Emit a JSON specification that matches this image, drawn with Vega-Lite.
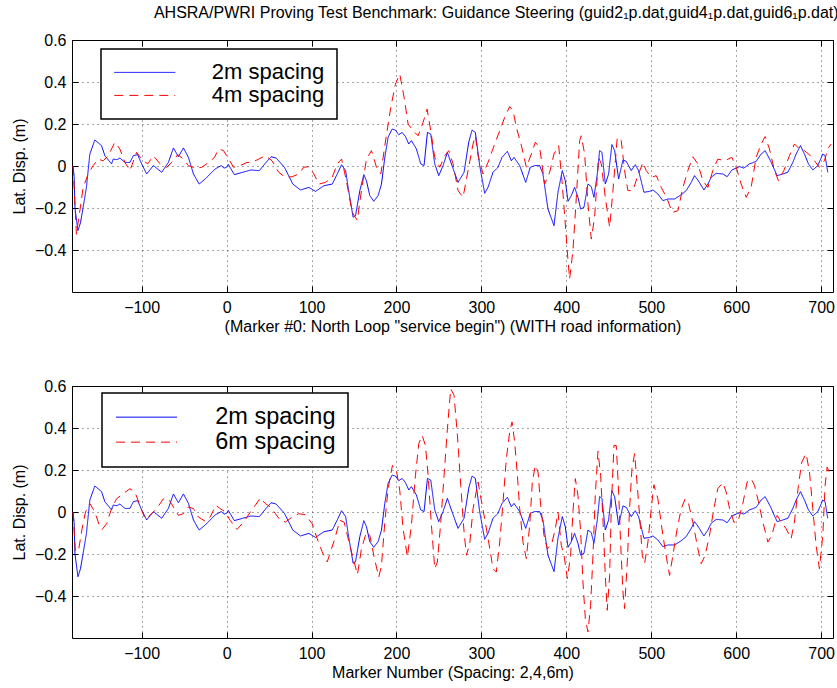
{
  "$schema": "https://vega.github.io/schema/vega-lite/v6.json",
  "background": "white",
  "padding": {"left": 10, "top": 4, "right": 0, "bottom": 0},
  "title": {"text": "AHSRA/PWRI Proving Test Benchmark: Guidance Steering (guid2₁p.dat,guid4₁p.dat,guid6₁p.dat)", "font": "Liberation Sans", "fontSize": 16, "fontWeight": "normal", "color": "#000", "anchor": "start", "dx": 143, "offset": 11},
  "config": {
    "font": "Liberation Sans",
    "view": {"stroke": "#000", "strokeWidth": 1},
    "axis": {"labelFont": "Liberation Sans", "labelFontSize": 16, "labelColor": "#000", "titleFont": "Liberation Sans", "titleFontSize": 16, "titleFontWeight": "normal", "titleColor": "#000", "domain": false, "tickColor": "#000", "tickSize": -6, "gridColor": "#000", "gridDash": [1, 4], "gridOpacity": 0.7, "gridWidth": 1},
    "legend": {"padding": 12.4, "symbolOffset": 20.4, "symbolType": "M-6.1,0H6.1", "symbolSize": 100, "symbolStrokeWidth": 1, "labelFont": "Liberation Sans", "labelFontSize": 22, "labelColor": "#000", "labelOffset": 56, "rowPadding": 1, "fillColor": "#fff", "strokeColor": "#000", "strokeWidth": 1.5}
  },
  "datasets": {
    "b2": [
      {"x": -180.7, "y": 0}, {"x": -179.5, "y": -0.05}, {"x": -178.5, "y": -0.2}, {"x": -175, "y": -0.308}, {"x": -172, "y": -0.27}, {"x": -168.9, "y": -0.197}, {"x": -165, "y": -0.102}, {"x": -161, "y": 0.057}, {"x": -155.1, "y": 0.124}, {"x": -151, "y": 0.11}, {"x": -147.2, "y": 0.097}, {"x": -143.3, "y": 0.049}, {"x": -135.4, "y": 0.01}, {"x": -133.5, "y": 0.033}, {"x": -129, "y": 0.03}, {"x": -125.6, "y": 0.038}, {"x": -119.7, "y": 0.017}, {"x": -113.8, "y": 0.017}, {"x": -109.8, "y": 0.049}, {"x": -104.7, "y": 0.054}, {"x": -100, "y": 0.01}, {"x": -94.1, "y": -0.038}, {"x": -86.2, "y": 0.002}, {"x": -76.4, "y": -0.03}, {"x": -68.5, "y": 0.017}, {"x": -62.6, "y": 0.086}, {"x": -56.7, "y": 0.044}, {"x": -50.8, "y": 0.086}, {"x": -44.9, "y": 0.041}, {"x": -39, "y": -0.038}, {"x": -32.3, "y": -0.086}, {"x": -25.2, "y": -0.062}, {"x": -13.4, "y": -0.014}, {"x": -6.3, "y": 0.002}, {"x": -3, "y": -0.01}, {"x": 0, "y": -0.006}, {"x": 2, "y": 0.008}, {"x": 9.1, "y": -0.041}, {"x": 18.9, "y": -0.03}, {"x": 28.7, "y": -0.019}, {"x": 38.6, "y": -0.022}, {"x": 46.5, "y": 0.017}, {"x": 52.4, "y": 0.044}, {"x": 58.3, "y": 0.038}, {"x": 68.1, "y": -0.006}, {"x": 78, "y": -0.086}, {"x": 87, "y": -0.114}, {"x": 96.9, "y": -0.102}, {"x": 104.7, "y": -0.121}, {"x": 114.6, "y": -0.094}, {"x": 124.4, "y": -0.086}, {"x": 130.3, "y": -0.038}, {"x": 135.4, "y": 0.006}, {"x": 140.2, "y": -0.022}, {"x": 143.1, "y": -0.102}, {"x": 149, "y": -0.244}, {"x": 151.8, "y": -0.237}, {"x": 156.9, "y": -0.117}, {"x": 161.6, "y": -0.041}, {"x": 164.7, "y": -0.07}, {"x": 168.6, "y": -0.141}, {"x": 173.3, "y": -0.168}, {"x": 178.4, "y": -0.141}, {"x": 182.4, "y": -0.086}, {"x": 186.3, "y": 0.041}, {"x": 190.2, "y": 0.137}, {"x": 194.9, "y": 0.176}, {"x": 198.8, "y": 0.171}, {"x": 202.7, "y": 0.149}, {"x": 206.7, "y": 0.16}, {"x": 210.6, "y": 0.14}, {"x": 214.5, "y": 0.105}, {"x": 217.6, "y": 0.121}, {"x": 223.5, "y": 0.081}, {"x": 228.6, "y": 0.01}, {"x": 232.5, "y": 0.002}, {"x": 236.5, "y": 0.16}, {"x": 240.4, "y": 0.152}, {"x": 245.1, "y": 0.01}, {"x": 249.8, "y": -0.046}, {"x": 254.9, "y": 0.002}, {"x": 260, "y": 0.065}, {"x": 264.7, "y": 0.01}, {"x": 272.5, "y": -0.078}, {"x": 279.6, "y": -0.03}, {"x": 285.1, "y": 0.113}, {"x": 289, "y": 0.171}, {"x": 292.9, "y": 0.16}, {"x": 298, "y": 0.002}, {"x": 303.9, "y": -0.13}, {"x": 307.8, "y": -0.102}, {"x": 313.7, "y": -0.03}, {"x": 319.6, "y": -0.006}, {"x": 324.3, "y": 0.041}, {"x": 330.6, "y": 0.07}, {"x": 335.3, "y": 0.025}, {"x": 338.4, "y": 0.041}, {"x": 345.1, "y": 0.002}, {"x": 352.2, "y": -0.078}, {"x": 357.6, "y": -0.006}, {"x": 362.7, "y": 0.002}, {"x": 368.6, "y": 0.002}, {"x": 372.5, "y": -0.038}, {"x": 378.4, "y": -0.205}, {"x": 385.5, "y": -0.284}, {"x": 390.2, "y": -0.125}, {"x": 395.3, "y": -0.022}, {"x": 398.8, "y": -0.07}, {"x": 402, "y": -0.168}, {"x": 405.9, "y": -0.141}, {"x": 409.8, "y": -0.102}, {"x": 413.7, "y": -0.149}, {"x": 416.9, "y": -0.205}, {"x": 420.8, "y": -0.197}, {"x": 425.5, "y": -0.086}, {"x": 429.4, "y": -0.098}, {"x": 432.5, "y": -0.149}, {"x": 436.5, "y": -0.038}, {"x": 439.2, "y": 0.073}, {"x": 442, "y": 0.065}, {"x": 445.9, "y": -0.086}, {"x": 449.8, "y": -0.038}, {"x": 453.7, "y": 0.102}, {"x": 456.9, "y": 0.073}, {"x": 461.6, "y": -0.062}, {"x": 466.7, "y": 0.029}, {"x": 470.6, "y": 0.022}, {"x": 476.5, "y": -0.022}, {"x": 481.2, "y": 0.006}, {"x": 485.1, "y": -0.022}, {"x": 491.4, "y": -0.125}, {"x": 498, "y": -0.121}, {"x": 502, "y": -0.114}, {"x": 507.8, "y": -0.133}, {"x": 513.7, "y": -0.165}, {"x": 519.6, "y": -0.157}, {"x": 527.5, "y": -0.157}, {"x": 535.3, "y": -0.137}, {"x": 541.2, "y": -0.117}, {"x": 547.1, "y": -0.078}, {"x": 551, "y": -0.046}, {"x": 554.9, "y": -0.067}, {"x": 562, "y": -0.114}, {"x": 566.7, "y": -0.086}, {"x": 570.6, "y": -0.054}, {"x": 576.5, "y": -0.035}, {"x": 584.3, "y": -0.038}, {"x": 589.4, "y": -0.051}, {"x": 594.9, "y": -0.019}, {"x": 603.9, "y": -0.003}, {"x": 609, "y": -0.01}, {"x": 615.7, "y": 0.01}, {"x": 623.5, "y": 0.022}, {"x": 629.4, "y": 0.057}, {"x": 634.1, "y": 0.073}, {"x": 640.4, "y": 0.025}, {"x": 648.2, "y": -0.046}, {"x": 654.9, "y": -0.038}, {"x": 660.8, "y": -0.03}, {"x": 666.7, "y": 0.017}, {"x": 670.6, "y": 0.057}, {"x": 675.7, "y": 0.097}, {"x": 680.4, "y": 0.057}, {"x": 685.1, "y": 0.01}, {"x": 690.2, "y": -0.019}, {"x": 696.1, "y": 0.002}, {"x": 702, "y": 0.057}, {"x": 704.7, "y": 0.049}, {"x": 707.8, "y": -0.03}
    ],
    "r4": [
      {"x": -180.7, "y": 0}, {"x": -176.8, "y": -0.325}, {"x": -172.8, "y": -0.214}, {"x": -168.9, "y": -0.103}, {"x": -163, "y": -0.038}, {"x": -157.1, "y": 0.002}, {"x": -151.2, "y": 0.033}, {"x": -145.3, "y": 0.025}, {"x": -139.4, "y": 0.049}, {"x": -131.5, "y": 0.113}, {"x": -125.6, "y": 0.081}, {"x": -119.7, "y": 0.017}, {"x": -113.8, "y": -0.022}, {"x": -105.9, "y": 0.065}, {"x": -100, "y": 0.033}, {"x": -92.9, "y": 0.01}, {"x": -86.2, "y": 0.049}, {"x": -78.3, "y": 0.01}, {"x": -70.5, "y": -0.006}, {"x": -64.6, "y": 0.017}, {"x": -57.5, "y": 0.054}, {"x": -50.8, "y": 0.033}, {"x": -44.9, "y": 0.002}, {"x": -37, "y": -0.01}, {"x": -29.1, "y": -0.006}, {"x": -21.3, "y": 0.017}, {"x": -14.2, "y": 0.041}, {"x": -9.4, "y": 0.081}, {"x": -3.5, "y": 0.073}, {"x": 2.4, "y": 0.033}, {"x": 8.3, "y": -0.006}, {"x": 16.1, "y": 0.002}, {"x": 24, "y": 0.017}, {"x": 29.9, "y": 0.017}, {"x": 37.8, "y": 0.033}, {"x": 45.7, "y": 0.049}, {"x": 53.5, "y": 0.025}, {"x": 61.4, "y": -0.03}, {"x": 69.3, "y": -0.054}, {"x": 77.2, "y": -0.051}, {"x": 85, "y": -0.038}, {"x": 90.9, "y": -0.006}, {"x": 96.9, "y": -0.003}, {"x": 102.8, "y": -0.038}, {"x": 108.7, "y": -0.086}, {"x": 116.5, "y": -0.078}, {"x": 124.4, "y": -0.054}, {"x": 130.3, "y": 0.01}, {"x": 135.4, "y": 0.033}, {"x": 140.2, "y": -0.054}, {"x": 148, "y": -0.221}, {"x": 153.9, "y": -0.259}, {"x": 158.8, "y": -0.117}, {"x": 164.7, "y": 0.033}, {"x": 170.6, "y": 0.073}, {"x": 176.5, "y": -0.006}, {"x": 181.6, "y": -0.038}, {"x": 186.3, "y": 0.097}, {"x": 193.3, "y": 0.279}, {"x": 198.8, "y": 0.39}, {"x": 203.9, "y": 0.438}, {"x": 209, "y": 0.327}, {"x": 213.7, "y": 0.2}, {"x": 219.6, "y": 0.168}, {"x": 225.5, "y": 0.144}, {"x": 231.4, "y": 0.208}, {"x": 236.1, "y": 0.271}, {"x": 240.4, "y": 0.168}, {"x": 245.1, "y": 0.041}, {"x": 251, "y": -0.006}, {"x": 256.9, "y": 0.049}, {"x": 261.6, "y": 0.073}, {"x": 266.7, "y": 0.01}, {"x": 272.5, "y": -0.117}, {"x": 278.4, "y": -0.149}, {"x": 284.3, "y": -0.022}, {"x": 290.2, "y": 0.105}, {"x": 292.9, "y": 0.144}, {"x": 296.1, "y": 0.049}, {"x": 302, "y": -0.038}, {"x": 307.8, "y": 0.017}, {"x": 315.7, "y": 0.105}, {"x": 321.6, "y": 0.168}, {"x": 327.5, "y": 0.232}, {"x": 333.3, "y": 0.283}, {"x": 337.3, "y": 0.263}, {"x": 341.2, "y": 0.184}, {"x": 347.1, "y": 0.097}, {"x": 353, "y": -0.006}, {"x": 358.8, "y": 0.057}, {"x": 363.5, "y": 0.113}, {"x": 368.6, "y": 0.089}, {"x": 374.5, "y": -0.086}, {"x": 380.4, "y": -0.03}, {"x": 385.5, "y": 0.057}, {"x": 391, "y": 0.097}, {"x": 394.9, "y": -0.07}, {"x": 398.8, "y": -0.276}, {"x": 402, "y": -0.451}, {"x": 403.9, "y": -0.538}, {"x": 407.8, "y": -0.403}, {"x": 411.8, "y": -0.149}, {"x": 415.7, "y": 0.121}, {"x": 417.6, "y": 0.144}, {"x": 421.6, "y": 0.057}, {"x": 425.5, "y": -0.181}, {"x": 429.4, "y": -0.348}, {"x": 433.3, "y": -0.244}, {"x": 438, "y": 0.041}, {"x": 441.2, "y": 0.01}, {"x": 445.9, "y": -0.149}, {"x": 451, "y": -0.292}, {"x": 454.9, "y": -0.117}, {"x": 460, "y": 0.137}, {"x": 464.7, "y": 0.121}, {"x": 468.6, "y": -0.022}, {"x": 472.5, "y": -0.117}, {"x": 478.4, "y": -0.117}, {"x": 483.5, "y": -0.054}, {"x": 490.2, "y": 0.017}, {"x": 494.1, "y": -0.022}, {"x": 500, "y": -0.054}, {"x": 505.9, "y": -0.046}, {"x": 511.8, "y": -0.102}, {"x": 518.8, "y": -0.157}, {"x": 524.7, "y": -0.221}, {"x": 531.4, "y": -0.213}, {"x": 537.3, "y": -0.102}, {"x": 543.1, "y": -0.022}, {"x": 549, "y": 0.044}, {"x": 554.9, "y": 0.01}, {"x": 560.8, "y": -0.07}, {"x": 566.7, "y": -0.102}, {"x": 572.5, "y": -0.022}, {"x": 578.4, "y": 0.033}, {"x": 586.3, "y": 0.025}, {"x": 594.9, "y": 0.041}, {"x": 600, "y": -0.006}, {"x": 605.9, "y": -0.086}, {"x": 611.8, "y": -0.149}, {"x": 617.6, "y": -0.102}, {"x": 623.5, "y": 0.041}, {"x": 629.4, "y": 0.105}, {"x": 634.1, "y": 0.14}, {"x": 639.2, "y": 0.081}, {"x": 645.1, "y": -0.022}, {"x": 649.8, "y": -0.07}, {"x": 656.1, "y": -0.022}, {"x": 662.7, "y": 0.049}, {"x": 668.6, "y": 0.105}, {"x": 674.5, "y": 0.081}, {"x": 680.4, "y": 0.073}, {"x": 687.5, "y": 0.049}, {"x": 692.2, "y": 0.025}, {"x": 698, "y": -0.006}, {"x": 703.9, "y": 0.025}, {"x": 707.8, "y": 0.081}, {"x": 711.8, "y": 0.105}
    ],
    "r6": [
      {"x": -180.7, "y": 0}, {"x": -178, "y": -0.19}, {"x": -174, "y": -0.175}, {"x": -170.1, "y": -0.079}, {"x": -166.1, "y": 0}, {"x": -161, "y": 0.04}, {"x": -155.1, "y": 0}, {"x": -149.2, "y": -0.071}, {"x": -146.5, "y": -0.083}, {"x": -141.3, "y": -0.056}, {"x": -135.4, "y": 0.016}, {"x": -129.5, "y": 0.063}, {"x": -121.7, "y": 0.087}, {"x": -113.8, "y": 0.111}, {"x": -107.9, "y": 0.095}, {"x": -102, "y": 0.032}, {"x": -96.1, "y": -0.032}, {"x": -90.2, "y": -0.016}, {"x": -82.3, "y": 0.016}, {"x": -74.4, "y": 0.063}, {"x": -68.5, "y": 0.063}, {"x": -62.6, "y": 0.024}, {"x": -56.7, "y": -0.016}, {"x": -50.8, "y": -0.008}, {"x": -44.9, "y": 0.024}, {"x": -39, "y": 0.016}, {"x": -33.1, "y": -0.024}, {"x": -25.2, "y": -0.044}, {"x": -19.3, "y": -0.024}, {"x": -12.6, "y": 0.032}, {"x": -7.5, "y": 0.016}, {"x": -1.6, "y": 0}, {"x": 4.3, "y": -0.04}, {"x": 12.2, "y": -0.083}, {"x": 20.1, "y": -0.048}, {"x": 28, "y": 0}, {"x": 33.9, "y": 0.032}, {"x": 39.8, "y": 0.067}, {"x": 45.7, "y": 0.04}, {"x": 51.6, "y": 0.024}, {"x": 57.5, "y": -0.008}, {"x": 63.4, "y": -0.04}, {"x": 69.3, "y": -0.048}, {"x": 77.2, "y": -0.024}, {"x": 85, "y": -0.008}, {"x": 92.9, "y": -0.013}, {"x": 100.8, "y": -0.056}, {"x": 106.7, "y": -0.127}, {"x": 112.6, "y": -0.19}, {"x": 118.5, "y": -0.238}, {"x": 123.5, "y": -0.175}, {"x": 127.5, "y": -0.127}, {"x": 133.3, "y": -0.04}, {"x": 138.4, "y": -0.048}, {"x": 145.1, "y": -0.159}, {"x": 150.2, "y": -0.238}, {"x": 154.1, "y": -0.298}, {"x": 158.8, "y": -0.175}, {"x": 164.7, "y": -0.095}, {"x": 168.6, "y": -0.111}, {"x": 173.7, "y": -0.214}, {"x": 179.2, "y": -0.31}, {"x": 182.4, "y": -0.254}, {"x": 186.3, "y": -0.048}, {"x": 190.2, "y": 0.111}, {"x": 195.3, "y": 0.222}, {"x": 200, "y": 0.198}, {"x": 203.9, "y": 0.103}, {"x": 207.8, "y": -0.079}, {"x": 212.9, "y": -0.214}, {"x": 217.6, "y": -0.063}, {"x": 222.4, "y": 0.175}, {"x": 226.3, "y": 0.325}, {"x": 230.2, "y": 0.365}, {"x": 234.1, "y": 0.317}, {"x": 237.3, "y": 0.175}, {"x": 241.2, "y": -0.063}, {"x": 245.1, "y": -0.27}, {"x": 248.2, "y": -0.238}, {"x": 252.2, "y": -0.048}, {"x": 256.1, "y": 0.175}, {"x": 260, "y": 0.397}, {"x": 263.9, "y": 0.587}, {"x": 267.8, "y": 0.556}, {"x": 271.8, "y": 0.365}, {"x": 275.7, "y": 0.127}, {"x": 279.6, "y": -0.095}, {"x": 282.4, "y": -0.206}, {"x": 286.3, "y": -0.151}, {"x": 290.2, "y": 0.016}, {"x": 296.1, "y": 0.143}, {"x": 299.2, "y": 0.071}, {"x": 303.9, "y": -0.032}, {"x": 308.6, "y": -0.143}, {"x": 313.7, "y": -0.27}, {"x": 317.6, "y": -0.286}, {"x": 321.6, "y": -0.143}, {"x": 325.5, "y": 0.048}, {"x": 329.4, "y": 0.254}, {"x": 333.3, "y": 0.381}, {"x": 336.1, "y": 0.429}, {"x": 339.2, "y": 0.333}, {"x": 342.4, "y": 0.175}, {"x": 345.1, "y": 0.016}, {"x": 349, "y": -0.143}, {"x": 352.9, "y": -0.222}, {"x": 356.9, "y": -0.063}, {"x": 360, "y": 0.143}, {"x": 363.5, "y": 0.222}, {"x": 366.7, "y": 0.19}, {"x": 369.8, "y": 0.032}, {"x": 373.7, "y": -0.111}, {"x": 377.6, "y": -0.175}, {"x": 382.4, "y": -0.159}, {"x": 387.1, "y": -0.079}, {"x": 390.2, "y": 0}, {"x": 394.1, "y": -0.159}, {"x": 397.3, "y": -0.206}, {"x": 401.2, "y": -0.317}, {"x": 405.1, "y": -0.206}, {"x": 407.8, "y": 0}, {"x": 410.6, "y": 0.159}, {"x": 413.7, "y": 0.079}, {"x": 416.9, "y": -0.095}, {"x": 419.6, "y": -0.333}, {"x": 422.4, "y": -0.508}, {"x": 425.5, "y": -0.571}, {"x": 428.6, "y": -0.444}, {"x": 431.4, "y": -0.206}, {"x": 434.1, "y": 0.079}, {"x": 437.3, "y": 0.289}, {"x": 440.4, "y": 0.175}, {"x": 443.1, "y": -0.032}, {"x": 445.9, "y": -0.302}, {"x": 448.2, "y": -0.468}, {"x": 451, "y": -0.302}, {"x": 452.9, "y": 0.016}, {"x": 456.1, "y": 0.317}, {"x": 458.8, "y": 0.317}, {"x": 461.6, "y": 0.095}, {"x": 463.9, "y": -0.143}, {"x": 466.7, "y": -0.381}, {"x": 468.6, "y": -0.46}, {"x": 471.8, "y": -0.238}, {"x": 474.5, "y": 0.016}, {"x": 477.3, "y": 0.206}, {"x": 480.4, "y": 0.278}, {"x": 483.5, "y": 0.127}, {"x": 486.3, "y": -0.016}, {"x": 489.4, "y": -0.206}, {"x": 492.2, "y": -0.246}, {"x": 496.1, "y": -0.143}, {"x": 500, "y": 0.016}, {"x": 503.1, "y": 0.13}, {"x": 507.8, "y": 0.063}, {"x": 513.7, "y": -0.111}, {"x": 518.8, "y": -0.238}, {"x": 521.6, "y": -0.302}, {"x": 525.5, "y": -0.206}, {"x": 530.6, "y": -0.079}, {"x": 535.3, "y": 0.016}, {"x": 540, "y": 0.063}, {"x": 543.9, "y": 0.04}, {"x": 549, "y": -0.048}, {"x": 554.9, "y": -0.175}, {"x": 558.8, "y": -0.246}, {"x": 563.5, "y": -0.206}, {"x": 568.6, "y": -0.111}, {"x": 573.7, "y": 0.016}, {"x": 578.4, "y": 0.111}, {"x": 584.3, "y": 0.14}, {"x": 588.2, "y": 0.095}, {"x": 592.2, "y": 0.016}, {"x": 597.3, "y": -0.048}, {"x": 602, "y": -0.048}, {"x": 607.8, "y": 0.04}, {"x": 612.9, "y": 0.143}, {"x": 617.6, "y": 0.159}, {"x": 621.6, "y": 0.127}, {"x": 626.3, "y": 0.048}, {"x": 631.4, "y": -0.048}, {"x": 637.3, "y": -0.143}, {"x": 642, "y": -0.111}, {"x": 648.2, "y": -0.016}, {"x": 652.9, "y": -0.048}, {"x": 658.8, "y": -0.079}, {"x": 664.7, "y": -0.127}, {"x": 668.6, "y": -0.048}, {"x": 673.3, "y": 0.127}, {"x": 677.3, "y": 0.238}, {"x": 682.4, "y": 0.278}, {"x": 686.3, "y": 0.19}, {"x": 690.2, "y": 0.016}, {"x": 694.1, "y": -0.159}, {"x": 698, "y": -0.27}, {"x": 702, "y": -0.111}, {"x": 704.7, "y": 0.127}, {"x": 707.1, "y": 0.214}, {"x": 711, "y": 0.175}
    ]
  },
  "spacing": 42,
  "resolve": {"scale": {"color": "independent", "strokeDash": "independent"}},
  "vconcat": [
    {
      "width": 761, "height": 252,
      "resolve": {"axis": {"x": "independent", "y": "independent"}},
      "layer": [
        {
          "data": {"name": "b2"},
          "mark": {"type": "line", "strokeWidth": 1, "clip": true},
          "encoding": {
            "x": {"field": "x", "type": "quantitative", "scale": {"domain": [-182, 714], "nice": false, "zero": false}, "axis": {"values": [-100, 0, 100, 200, 300, 400, 500, 600, 700], "format": "d", "labelPadding": 13, "titlePadding": 3, "grid": true}, "title": "(Marker #0: North Loop \"service begin\") (WITH road information)"},
            "y": {"field": "y", "type": "quantitative", "scale": {"domain": [-0.6, 0.6], "nice": false, "zero": false}, "axis": {"values": [-0.4, -0.2, 0, 0.2, 0.4, 0.6], "format": ".1~f", "labelPadding": 12, "titlePadding": 7, "grid": true}, "title": "Lat. Disp. (m)"},
            "color": {"datum": "2m spacing", "type": "nominal", "scale": {"domain": ["2m spacing", "4m spacing"], "range": ["#0000ff", "#ff0000"]}, "legend": {"orient": "none", "legendX": 29, "legendY": 9, "title": null}},
            "strokeDash": {"datum": "2m spacing", "type": "nominal", "scale": {"domain": ["2m spacing", "4m spacing"], "range": [[1, 0], [9, 6]]}, "legend": {"orient": "none", "legendX": 29, "legendY": 9, "title": null}}
          }
        },
        {
          "data": {"name": "r4"},
          "mark": {"type": "line", "strokeWidth": 1, "clip": true},
          "encoding": {
            "x": {"field": "x", "type": "quantitative", "scale": {"domain": [-182, 714], "nice": false, "zero": false}, "axis": {"orient": "top", "values": [-100, 0, 100, 200, 300, 400, 500, 600, 700], "labels": false, "grid": false, "title": null}},
            "y": {"field": "y", "type": "quantitative", "scale": {"domain": [-0.6, 0.6], "nice": false, "zero": false}, "axis": {"orient": "right", "values": [-0.4, -0.2, 0, 0.2, 0.4, 0.6], "labels": false, "grid": false, "title": null}},
            "color": {"datum": "4m spacing", "type": "nominal"},
            "strokeDash": {"datum": "4m spacing", "type": "nominal"}
          }
        }
      ]
    },
    {
      "width": 761, "height": 252,
      "resolve": {"axis": {"x": "independent", "y": "independent"}},
      "layer": [
        {
          "data": {"name": "b2"},
          "mark": {"type": "line", "strokeWidth": 1, "clip": true},
          "encoding": {
            "x": {"field": "x", "type": "quantitative", "scale": {"domain": [-182, 714], "nice": false, "zero": false}, "axis": {"values": [-100, 0, 100, 200, 300, 400, 500, 600, 700], "format": "d", "labelPadding": 13, "titlePadding": 3, "grid": true}, "title": "Marker Number (Spacing: 2,4,6m)"},
            "y": {"field": "y", "type": "quantitative", "scale": {"domain": [-0.6, 0.6], "nice": false, "zero": false}, "axis": {"values": [-0.4, -0.2, 0, 0.2, 0.4, 0.6], "format": ".1~f", "labelPadding": 12, "titlePadding": 7, "grid": true}, "title": "Lat. Disp. (m)"},
            "color": {"datum": "2m spacing", "type": "nominal", "scale": {"domain": ["2m spacing", "6m spacing"], "range": ["#0000ff", "#ff0000"]}, "legend": {"orient": "none", "legendX": 30, "legendY": 7, "title": null, "labelFontSize": 23.5, "labelOffset": 57, "rowPadding": 0}},
            "strokeDash": {"datum": "2m spacing", "type": "nominal", "scale": {"domain": ["2m spacing", "6m spacing"], "range": [[1, 0], [9, 6]]}, "legend": {"orient": "none", "legendX": 30, "legendY": 7, "title": null, "labelFontSize": 23.5, "labelOffset": 57, "rowPadding": 0}}
          }
        },
        {
          "data": {"name": "r6"},
          "mark": {"type": "line", "strokeWidth": 1, "clip": true},
          "encoding": {
            "x": {"field": "x", "type": "quantitative", "scale": {"domain": [-182, 714], "nice": false, "zero": false}, "axis": {"orient": "top", "values": [-100, 0, 100, 200, 300, 400, 500, 600, 700], "labels": false, "grid": false, "title": null}},
            "y": {"field": "y", "type": "quantitative", "scale": {"domain": [-0.6, 0.6], "nice": false, "zero": false}, "axis": {"orient": "right", "values": [-0.4, -0.2, 0, 0.2, 0.4, 0.6], "labels": false, "grid": false, "title": null}},
            "color": {"datum": "6m spacing", "type": "nominal"},
            "strokeDash": {"datum": "6m spacing", "type": "nominal"}
          }
        }
      ]
    }
  ]
}
